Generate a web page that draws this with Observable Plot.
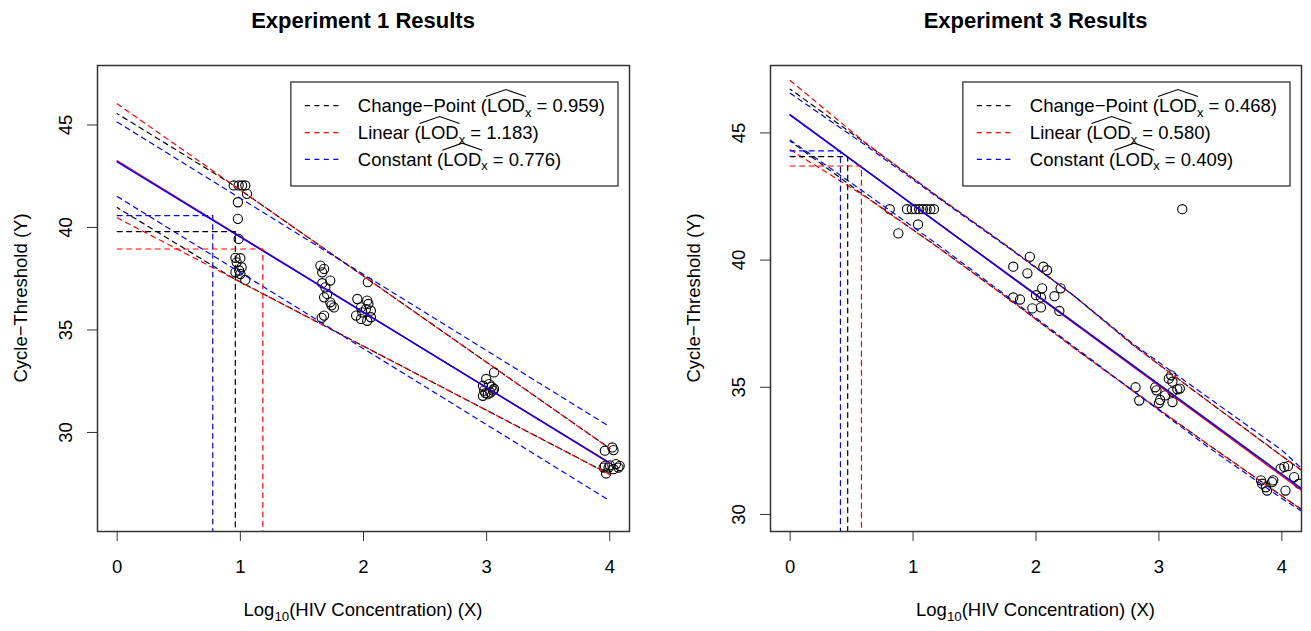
<!DOCTYPE html>
<html>
<head>
<meta charset="utf-8">
<script src="https://cdn.jsdelivr.net/npm/d3@7"></script>
<script src="https://cdn.jsdelivr.net/npm/@observablehq/plot@0.6"></script>
<style>
  html, body { margin: 0; padding: 0; background: #fff; }
  #wrap { display: flex; width: 1311px; height: 631px; overflow: hidden; }
  #wrap svg { display: block; flex: none; }
</style>
</head>
<body>
<div id="wrap"></div>
<script>
// ---------------- data ----------------
const xTicks = [0, 1, 2, 3, 4];
const yTicks = [30, 35, 40, 45];
const modelNames = ["Change\u2212Point", "Linear", "Constant"];

// Experiment 1 observations
const exp1X = [0.946, 0.986, 1.014, 1.04, 1.054, 0.98, 0.98, 0.986, 0.96, 1.0, 0.97, 1.01, 0.99, 0.96, 1.0, 1.04,
  1.65, 1.68, 1.665, 1.73, 1.665, 1.69, 1.705, 1.68, 1.73, 1.76, 1.74, 1.68, 1.66,
  2.035, 1.95, 2.03, 2.04, 1.98, 2.02, 2.06, 1.99, 1.94, 1.98, 2.03, 2.06,
  3.06, 2.996, 3.02, 2.97, 3.04, 2.98, 3.03, 2.97, 3.01, 3.06, 2.99, 3.05,
  3.96, 4.02, 4.03, 3.96, 3.99, 4.05, 4.07, 3.97, 4.03, 4.08, 3.95, 4.0];
const exp1Y = [42.05, 42.05, 42.05, 42.05, 41.64, 41.23, 40.42, 39.44, 38.52, 38.5, 38.3, 38.06, 37.9, 37.81, 37.73, 37.44,
  38.14, 37.98, 37.81, 37.41, 37.28, 37.08, 36.76, 36.59, 36.35, 36.1, 36.2, 35.7, 35.59,
  37.33, 36.51, 36.43, 36.27, 36.1, 36.02, 35.94, 35.86, 35.7, 35.54, 35.45, 35.62,
  32.93, 32.61, 32.36, 32.28, 32.23, 32.04, 31.95, 31.79, 31.87, 32.12, 31.92, 32.05,
  29.11, 29.27, 29.14, 28.37, 28.29, 28.46, 28.29, 28.0, 28.21, 28.37, 28.29, 28.4];

// Experiment 1 fitted lines and prediction bands
const exp1FitX = [0, 4];
const exp1FitLinear = [43.25, 28.49];
const exp1FitConstant = [43.20, 28.52];
const exp1BandX = [0, 4];
const exp1LinearUpper = [46.03, 29.22];
const exp1LinearLower = [40.47, 27.95];
const exp1ConstantUpper = [45.14, 30.28];
const exp1ConstantLower = [41.51, 26.67];
const exp1CpBandX = [0, 0.94, 4];
const exp1CpUpper = [45.55, 42.08, 29.22];
const exp1CpLower = [40.97, 37.53, 27.95];
const exp1CpMerge = 0.94;                  // change-point band joins the linear band here
const exp1Lod = [0.959, 1.183, 0.776];      // change-point, linear, constant
const exp1LodY = [39.80, 38.95, 40.58];

// Experiment 3 observations
const exp3X = [0.81, 0.95, 0.99, 1.02, 1.05, 1.08, 1.11, 1.14, 1.17, 1.04, 0.88, 3.19,
  1.95, 1.815, 2.06, 2.09, 1.93, 2.05, 2.2, 2.0, 2.04, 1.815, 1.87, 2.15, 1.97, 2.04, 2.19,
  3.10, 3.08, 3.11, 2.81, 2.97, 2.98, 3.15, 3.11, 3.05, 2.84, 3.01, 3.0, 3.11, 3.17,
  3.83, 3.84, 3.87, 3.88, 3.92, 3.93, 4.03, 3.99, 4.02, 4.05, 4.1, 4.14];
const exp3Y = [42.0, 42.0, 42.0, 42.0, 42.0, 42.0, 42.0, 42.0, 42.0, 41.4, 41.05, 42.0,
  40.13, 39.74, 39.74, 39.6, 39.48, 38.89, 38.89, 38.62, 38.53, 38.53, 38.45, 38.58, 38.1, 38.14, 38.0,
  35.47, 35.34, 35.22, 35.0, 35.0, 34.88, 34.92, 34.82, 34.68, 34.48, 34.5, 34.38, 34.42, 34.95,
  31.34, 31.21, 31.07, 30.94, 31.27, 31.34, 30.94, 31.8, 31.87, 31.9, 31.47, 31.21];

// Experiment 3 fitted lines and prediction bands
const exp3FitX = [0, 4.25];
const exp3FitLinear = [45.72, 30.63];
const exp3FitConstant = [45.70, 30.70];
const exp3BandX = [0, 0.6, 1.2, 1.8, 2.3, 2.8, 3.4, 4.0, 4.25];
const exp3CpUpper = [46.72, 44.64, 42.50, 40.43, 38.63, 36.62, 34.45, 32.30, 31.42];
const exp3CpLower = [44.68, 42.55, 40.51, 38.40, 36.58, 34.82, 32.75, 30.73, 29.90];
const exp3LinearUpper = [47.06, 44.66, 42.50, 40.43, 38.63, 36.62, 34.45, 32.30, 31.42];
const exp3LinearLower = [44.34, 42.53, 40.51, 38.40, 36.58, 34.82, 32.75, 30.73, 29.90];
const exp3ConstantUpper = [46.56, 44.56, 42.46, 40.40, 38.63, 36.67, 34.60, 32.53, 31.40];
const exp3ConstantLower = [44.72, 42.68, 40.61, 38.45, 36.63, 34.82, 32.65, 30.63, 29.85];
const exp3CpMerge = 1.2;
const exp3Lod = [0.468, 0.580, 0.409];
const exp3LodY = [44.07, 43.70, 44.29];

// ---------------- drawing ----------------
const FF = "'Liberation Sans', Arial, Helvetica, sans-serif";
const FS = 18.5;
const COLORS = ["black", "red", "blue"];
const DASH_ON = 5, DASH_OFF = 4.5, DASH = `${DASH_ON},${DASH_OFF}`;
const H = 631, MT = 65, MB = 100;

const xy = (xs, ys) => xs.map((x, i) => ({x, y: ys[i]}));

// pixel length of a polyline from its start up to abscissa xm
function lenTo(xs, ys, xm, sx, sy) {
  let L = 0;
  for (let i = 1; i < xs.length; i++) {
    const x0 = xs[i - 1], x1 = Math.min(xs[i], xm);
    if (x1 <= x0) break;
    const t = (x1 - x0) / (xs[i] - x0);
    const y1 = ys[i - 1] + t * (ys[i] - ys[i - 1]);
    L += Math.hypot(sx(x1) - sx(x0), sy(y1) - sy(ys[i - 1]));
    if (xs[i] >= xm) break;
  }
  return L;
}

function makePanel(o) {
  const marks = [];
  marks.push(Plot.dot(xy(o.px, o.py), {x: "x", y: "y", r: 4.6, stroke: "black", strokeWidth: 1.1, fill: "none", clip: true}));
  o.bands.forEach((b, i) => {
    marks.push(Plot.line(xy(b.x, b.y), {x: "x", y: "y", stroke: b.color, strokeWidth: 1.2, strokeDasharray: DASH, clip: true, ariaDescription: "band" + i}));
  });
  for (const f of o.fits) {
    marks.push(Plot.line(xy(f.x, f.y), {x: "x", y: "y", stroke: f.color, strokeWidth: 1.5, clip: true}));
  }
  o.lod.forEach((v, i) => {
    marks.push(Plot.line([{x: 0, y: o.lodY[i]}, {x: v, y: o.lodY[i]}, {x: v, y: o.yDomain[0]}],
      {x: "x", y: "y", stroke: COLORS[i], strokeWidth: 1.2, strokeDasharray: DASH, clip: true}));
  });
  marks.push(Plot.frame({stroke: "#333", strokeWidth: 1.5}));
  marks.push(Plot.axisX({ticks: xTicks, tickSize: 10, tickPadding: 18, label: null, fontSize: FS, stroke: "#333", tickFormat: d3.format("d")}));
  marks.push(Plot.axisY({ticks: yTicks, tickSize: 10, tickPadding: 16, tickRotate: -90, label: null, fontSize: FS, stroke: "#333", tickFormat: d3.format("d")}));

  const svg = Plot.plot({
    width: o.width, height: H,
    marginLeft: o.ml, marginRight: o.mr, marginTop: MT, marginBottom: MB,
    x: {domain: o.xDomain},
    y: {domain: o.yDomain},
    style: {fontFamily: FF, fontSize: FS + "px", background: "white", color: "black", overflow: "visible"},
    marks
  });
  document.getElementById("wrap").appendChild(svg);

  const s = d3.select(svg);
  const sx = v => svg.scale("x").apply(v), sy = v => svg.scale("y").apply(v);

  // shift the dash phase of the change-point bands where they run on top of the linear bands
  const P = DASH_ON + DASH_OFF, shift = 2.5;
  [[0, 2], [1, 3]].forEach(([bi, ri]) => {
    const b = o.bands[bi], r = o.bands[ri];
    const Lb = lenTo(b.x, b.y, o.merge, sx, sy), Lr = lenTo(r.x, r.y, o.merge, sx, sy);
    const off = (((Lr - Lb - shift) % P) + P) % P;
    s.selectAll(`g[aria-description="band${bi}"] path`).attr("stroke-dashoffset", off);
  });

  const boxL = o.ml, boxR = o.width - o.mr, boxT = MT, boxB = H - MB;
  const cx = (boxL + boxR) / 2, cy = (boxT + boxB) / 2;

  // title
  s.append("text").attr("x", cx).attr("y", 28).attr("text-anchor", "middle")
    .attr("font-family", FF).attr("font-size", 22).attr("font-weight", "bold").text(o.title);

  // x-axis title with subscript
  const xt = s.append("text").attr("x", cx).attr("y", 616).attr("text-anchor", "middle")
    .attr("font-family", FF).attr("font-size", FS);
  xt.append("tspan").text("Log");
  xt.append("tspan").attr("font-size", "0.72em").attr("dy", 5).text("10");
  xt.append("tspan").attr("dy", -5).text("(HIV Concentration) (X)");

  // y-axis title
  s.append("text").attr("transform", `translate(${boxL - 70},${cy}) rotate(-90)`)
    .attr("text-anchor", "middle").attr("font-family", FF).attr("font-size", FS)
    .text("Cycle\u2212Threshold (Y)");

  // legend
  const g = s.append("g").attr("font-family", FF).attr("font-size", FS).attr("text-anchor", "start");
  const top = 82, rowDy = [23.7, 50.7, 77.3], boxH = 104;
  const texts = modelNames.map((m, i) => {
    const t = g.append("text").attr("y", top + rowDy[i] + 6.6).attr("text-anchor", "start");
    t.append("tspan").text(m + " (");
    t.append("tspan").text("LOD");
    t.append("tspan").attr("font-size", "0.7em").attr("dy", 4.5).text("x");
    t.append("tspan").attr("dy", -4.5).text(" = " + o.lod[i].toFixed(3) + ")");
    return {t, prefix: m.length + 2};
  });
  const maxLen = d3.max(texts, d => d.t.node().getComputedTextLength());
  const lw = 67 + maxLen + 13;
  const left = boxR - 11 - lw;
  g.insert("rect", ":first-child").attr("x", left).attr("y", top).attr("width", lw).attr("height", boxH)
    .attr("fill", "white").attr("stroke", "#333").attr("stroke-width", 1.3);
  texts.forEach(({t, prefix}, i) => {
    t.attr("x", left + 67);
    const yc = top + rowDy[i];
    g.append("line").attr("x1", left + 14).attr("x2", left + 51).attr("y1", yc).attr("y2", yc)
      .attr("stroke", COLORS[i]).attr("stroke-width", 1.2).attr("stroke-dasharray", DASH);
    const n = t.node();
    const a = n.getSubStringLength(0, prefix);
    const w = n.getSubStringLength(prefix, 3);
    const x1 = left + 67 + a - 1, x2 = x1 + w + 2;
    const capTop = yc - 6.6;
    g.append("path").attr("d", `M${x1},${capTop - 2.5} L${(x1 + x2) / 2},${capTop - 9.5} L${x2},${capTop - 2.5}`)
      .attr("fill", "none").attr("stroke", "black").attr("stroke-width", 1.1);
  });
}

const lineSet = (bx, cpx, cpU, cpL, linU, linL, conU, conL) => [
  {x: cpx, y: cpU, color: "black"}, {x: cpx, y: cpL, color: "black"},
  {x: bx, y: linU, color: "red"}, {x: bx, y: linL, color: "red"},
  {x: bx, y: conU, color: "blue"}, {x: bx, y: conL, color: "blue"}
];

makePanel({
  title: "Experiment 1 Results",
  width: 655, ml: 97, mr: 26,
  xDomain: [-0.16, 4.16], yDomain: [25.17, 47.9],
  px: exp1X, py: exp1Y,
  bands: lineSet(exp1BandX, exp1CpBandX, exp1CpUpper, exp1CpLower, exp1LinearUpper, exp1LinearLower, exp1ConstantUpper, exp1ConstantLower),
  merge: exp1CpMerge,
  fits: [{x: exp1FitX, y: exp1FitLinear, color: "red"}, {x: exp1FitX, y: exp1FitConstant, color: "blue"}],
  lod: exp1Lod, lodY: exp1LodY
});

makePanel({
  title: "Experiment 3 Results",
  width: 656, ml: 115, mr: 10,
  xDomain: [-0.16, 4.16], yDomain: [29.33, 47.65],
  px: exp3X, py: exp3Y,
  bands: lineSet(exp3BandX, exp3BandX, exp3CpUpper, exp3CpLower, exp3LinearUpper, exp3LinearLower, exp3ConstantUpper, exp3ConstantLower),
  merge: exp3CpMerge,
  fits: [{x: exp3FitX, y: exp3FitLinear, color: "red"}, {x: exp3FitX, y: exp3FitConstant, color: "blue"}],
  lod: exp3Lod, lodY: exp3LodY
});
</script>
</body>
</html>
